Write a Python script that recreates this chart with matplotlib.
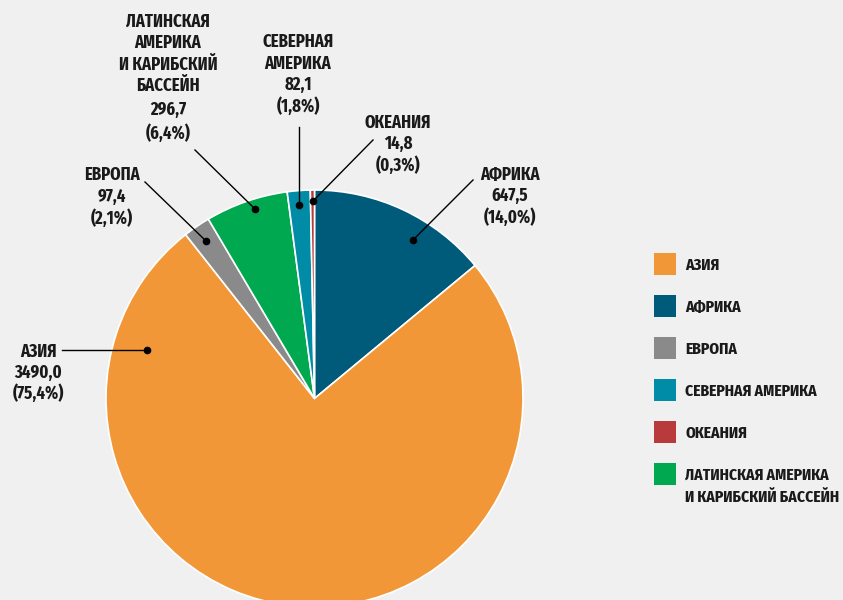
import matplotlib
matplotlib.use("Agg")
import matplotlib.pyplot as plt
from matplotlib.patches import Rectangle

plt.rcParams['font.family'] = ['Fira Sans Extra Condensed', 'Fira Sans Condensed', 'DejaVu Sans']

# Data (clockwise from 12 o'clock)
regions = ["АФРИКА", "АЗИЯ", "ЕВРОПА", "ЛАТИНСКАЯ АМЕРИКА\nИ КАРИБСКИЙ БАССЕЙН", "СЕВЕРНАЯ АМЕРИКА", "ОКЕАНИЯ"]
values = [647.5, 3490.0, 97.4, 296.7, 82.1, 14.8]
percents = [14.0, 75.4, 2.1, 6.4, 1.8, 0.3]
colors = ["#005B7B", "#F29737", "#8A8A8A", "#00A84F", "#008CA6", "#B93A3A"]

# labels shown next to the pie (name lines)
pie_names = [["АФРИКА"], ["АЗИЯ"], ["ЕВРОПА"],
             ["ЛАТИНСКАЯ", "АМЕРИКА", "И КАРИБСКИЙ", "БАССЕЙН"],
             ["СЕВЕРНАЯ", "АМЕРИКА"], ["ОКЕАНИЯ"]]

legend_order = [1, 0, 2, 4, 5, 3]

W, H = 843, 600
BG = "#F0F0F0"

fig = plt.figure(figsize=(W / 100, H / 100), dpi=100, facecolor=BG)
ax = fig.add_axes([0, 0, 1, 1])
ax.set_facecolor(BG)

def Y(y):
    return H - y

cx, cy, R = 314.5, 398.5, 208.5
ax.pie(values, colors=colors, startangle=90, counterclock=False,
       center=(cx, Y(cy)), radius=R,
       wedgeprops=dict(edgecolor="white", linewidth=1.2), frame=True)
ax.set_xlim(0, W)
ax.set_ylim(0, H)
ax.set_aspect('equal')
ax.axis('off')

def fmt(v):
    return f"{v:.1f}".replace(".", ",")

# label placement: (dot, line end, text center x, first line y, line step)
places = [
    ((413, 240), (473, 180), 510, 175, 21),
    ((147, 350), (62, 350), 38, 352, 20.5),
    ((206, 241), (145, 182), 112, 175, 21.5),
    ((255, 209), (195, 150), 168, 22, 21.3),
    ((299, 205), (299, 127), 298, 42, 21.5),
    ((313, 201), (373, 140), 398, 123, 21),
]

fs = 13.0
TXT = "#1A1A1A"
for i, (dot, end, tx, ty, step) in enumerate(places):
    ax.plot([dot[0], end[0]], [Y(dot[1]), Y(end[1])], color="black", lw=1.0, zorder=5)
    ax.plot(dot[0], Y(dot[1]), 'o', color="black", ms=4.5, zorder=6)
    lines = pie_names[i] + [fmt(values[i]), f"({fmt(percents[i])}%)"]
    y = ty
    for j, ln in enumerate(lines):
        if i == 3 and j == 4:
            y += 3
        if i == 3 and j == 5:
            y += 2
        ax.text(tx, Y(y), ln, ha='center', va='center', fontsize=fs,
                fontweight='bold', color=TXT)
        y += step

# legend
ly0, lstep = 264, 42
for k, idx in enumerate(legend_order):
    yc = ly0 + k * lstep
    ax.add_patch(Rectangle((654, Y(yc + 11)), 22, 22, facecolor=colors[idx], edgecolor='none'))
    name_lines = regions[idx].split("\n")
    for j, ln in enumerate(name_lines):
        ax.text(685, Y(yc + 1 + j * 22), ln, ha='left', va='center', fontsize=12.2,
                fontweight='bold', color=TXT)

fig.savefig("out.png", dpi=100, facecolor=BG)
